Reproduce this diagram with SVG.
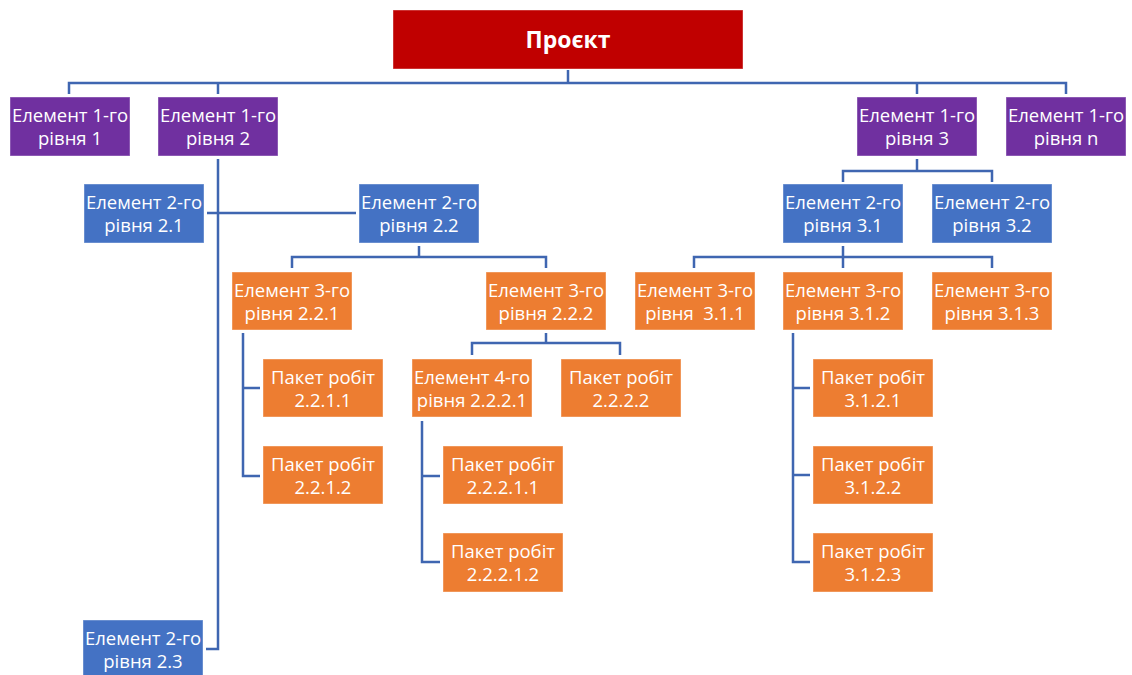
<svg xmlns="http://www.w3.org/2000/svg" width="1132" height="675" viewBox="0 0 1132 675">
  <style>
    .box { stroke: #ffffff; stroke-opacity: 0.4; stroke-width: 1; }
    .root { fill: #C00000; }
    .l1 { fill: #7030A0; }
    .l2 { fill: #4472C4; }
    .l3 { fill: #ED7D31; }
    .lbl { font-family: "Open Sans", "Liberation Sans", sans-serif; font-size: 18.5px; fill: #ffffff; text-anchor: middle; white-space: pre; }
    .title { font-family: "Open Sans", "Liberation Sans", sans-serif; font-size: 23px; font-weight: bold; fill: #ffffff; text-anchor: middle; }
    .link { fill: none; stroke: #3F66B1; stroke-width: 2.5; stroke-linejoin: miter; stroke-linecap: butt; }
  </style>

  <!-- connectors -->
  <g id="connectors" class="link">
    <path d="M568,70 V83"/>
    <path d="M69,94 V83 H1066 V94"/>
    <path d="M218,83 V94"/>
    <path d="M917,83 V94"/>
    <path d="M218,159 V649 H206"/>
    <path d="M207,213 H356"/>
    <path d="M419,246 V257"/>
    <path d="M292,268 V257 H546 V268"/>
    <path d="M917,159 V171"/>
    <path d="M843,182 V171 H992 V182"/>
    <path d="M843,246 V257"/>
    <path d="M694,268 V257 H992 V268"/>
    <path d="M843,257 V268"/>
    <path d="M243,333 V476 H260"/>
    <path d="M243,388 H260"/>
    <path d="M546,333 V343"/>
    <path d="M472,355 V343 H620 V355"/>
    <path d="M422,421 V562 H440"/>
    <path d="M422,476 H440"/>
    <path d="M793,333 V562 H810"/>
    <path d="M793,388 H810"/>
    <path d="M793,475 H810"/>
  </g>

  <!-- root -->
  <g id="project">
    <rect class="box root" x="393" y="10" width="350" height="59"/>
    <text class="title" x="568" y="48">Проєкт</text>
  </g>

  <!-- level 1 -->
  <g id="e1-1">
    <rect class="box l1" x="10" y="97" width="120" height="59"/>
    <text class="lbl" x="70" y="122">Елемент 1-го</text>
    <text class="lbl" x="70" y="145">рівня 1</text>
  </g>
  <g id="e1-2">
    <rect class="box l1" x="158" y="97" width="120" height="59"/>
    <text class="lbl" x="218" y="122">Елемент 1-го</text>
    <text class="lbl" x="218" y="145">рівня 2</text>
  </g>
  <g id="e1-3">
    <rect class="box l1" x="857" y="97" width="120" height="59"/>
    <text class="lbl" x="917" y="122">Елемент 1-го</text>
    <text class="lbl" x="917" y="145">рівня 3</text>
  </g>
  <g id="e1-n">
    <rect class="box l1" x="1006" y="97" width="120" height="59"/>
    <text class="lbl" x="1066" y="122">Елемент 1-го</text>
    <text class="lbl" x="1066" y="145">рівня n</text>
  </g>

  <!-- level 2 -->
  <g id="e2-2-1">
    <rect class="box l2" x="84" y="184" width="120" height="59"/>
    <text class="lbl" x="144" y="209">Елемент 2-го</text>
    <text class="lbl" x="144" y="232">рівня 2.1</text>
  </g>
  <g id="e2-2-2">
    <rect class="box l2" x="359" y="184" width="120" height="59"/>
    <text class="lbl" x="419" y="209">Елемент 2-го</text>
    <text class="lbl" x="419" y="232">рівня 2.2</text>
  </g>
  <g id="e2-2-3">
    <rect class="box l2" x="83" y="620" width="120" height="59"/>
    <text class="lbl" x="143" y="645">Елемент 2-го</text>
    <text class="lbl" x="143" y="668">рівня 2.3</text>
  </g>
  <g id="e2-3-1">
    <rect class="box l2" x="783" y="184" width="120" height="59"/>
    <text class="lbl" x="843" y="209">Елемент 2-го</text>
    <text class="lbl" x="843" y="232">рівня 3.1</text>
  </g>
  <g id="e2-3-2">
    <rect class="box l2" x="932" y="184" width="120" height="59"/>
    <text class="lbl" x="992" y="209">Елемент 2-го</text>
    <text class="lbl" x="992" y="232">рівня 3.2</text>
  </g>

  <!-- level 3 -->
  <g id="e3-2-2-1">
    <rect class="box l3" x="232" y="272" width="120" height="58"/>
    <text class="lbl" x="292" y="297">Елемент 3-го</text>
    <text class="lbl" x="292" y="320">рівня 2.2.1</text>
  </g>
  <g id="e3-2-2-2">
    <rect class="box l3" x="486" y="272" width="120" height="58"/>
    <text class="lbl" x="546" y="297">Елемент 3-го</text>
    <text class="lbl" x="546" y="320">рівня 2.2.2</text>
  </g>
  <g id="e3-3-1-1">
    <rect class="box l3" x="635" y="272" width="120" height="58"/>
    <text class="lbl" x="695" y="297">Елемент 3-го</text>
    <text class="lbl" x="695" y="320">рівня  3.1.1</text>
  </g>
  <g id="e3-3-1-2">
    <rect class="box l3" x="783" y="272" width="120" height="58"/>
    <text class="lbl" x="843" y="297">Елемент 3-го</text>
    <text class="lbl" x="843" y="320">рівня 3.1.2</text>
  </g>
  <g id="e3-3-1-3">
    <rect class="box l3" x="932" y="272" width="120" height="58"/>
    <text class="lbl" x="992" y="297">Елемент 3-го</text>
    <text class="lbl" x="992" y="320">рівня 3.1.3</text>
  </g>

  <!-- work packages and level 4 -->
  <g id="wp-2-2-1-1">
    <rect class="box l3" x="263" y="359" width="120" height="58"/>
    <text class="lbl" x="323" y="384">Пакет робіт</text>
    <text class="lbl" x="323" y="407">2.2.1.1</text>
  </g>
  <g id="wp-2-2-1-2">
    <rect class="box l3" x="263" y="446" width="120" height="58"/>
    <text class="lbl" x="323" y="471">Пакет робіт</text>
    <text class="lbl" x="323" y="494">2.2.1.2</text>
  </g>
  <g id="e4-2-2-2-1">
    <rect class="box l3" x="412" y="359" width="120" height="58"/>
    <text class="lbl" x="472" y="384">Елемент 4-го</text>
    <text class="lbl" x="472" y="407">рівня 2.2.2.1</text>
  </g>
  <g id="wp-2-2-2-2">
    <rect class="box l3" x="561" y="359" width="120" height="58"/>
    <text class="lbl" x="621" y="384">Пакет робіт</text>
    <text class="lbl" x="621" y="407">2.2.2.2</text>
  </g>
  <g id="wp-2-2-2-1-1">
    <rect class="box l3" x="443" y="446" width="120" height="58"/>
    <text class="lbl" x="503" y="471">Пакет робіт</text>
    <text class="lbl" x="503" y="494">2.2.2.1.1</text>
  </g>
  <g id="wp-2-2-2-1-2">
    <rect class="box l3" x="443" y="533" width="120" height="59"/>
    <text class="lbl" x="503" y="558">Пакет робіт</text>
    <text class="lbl" x="503" y="581">2.2.2.1.2</text>
  </g>
  <g id="wp-3-1-2-1">
    <rect class="box l3" x="813" y="359" width="120" height="58"/>
    <text class="lbl" x="873" y="384">Пакет робіт</text>
    <text class="lbl" x="873" y="407">3.1.2.1</text>
  </g>
  <g id="wp-3-1-2-2">
    <rect class="box l3" x="813" y="446" width="120" height="58"/>
    <text class="lbl" x="873" y="471">Пакет робіт</text>
    <text class="lbl" x="873" y="494">3.1.2.2</text>
  </g>
  <g id="wp-3-1-2-3">
    <rect class="box l3" x="813" y="533" width="120" height="59"/>
    <text class="lbl" x="873" y="558">Пакет робіт</text>
    <text class="lbl" x="873" y="581">3.1.2.3</text>
  </g>
</svg>
